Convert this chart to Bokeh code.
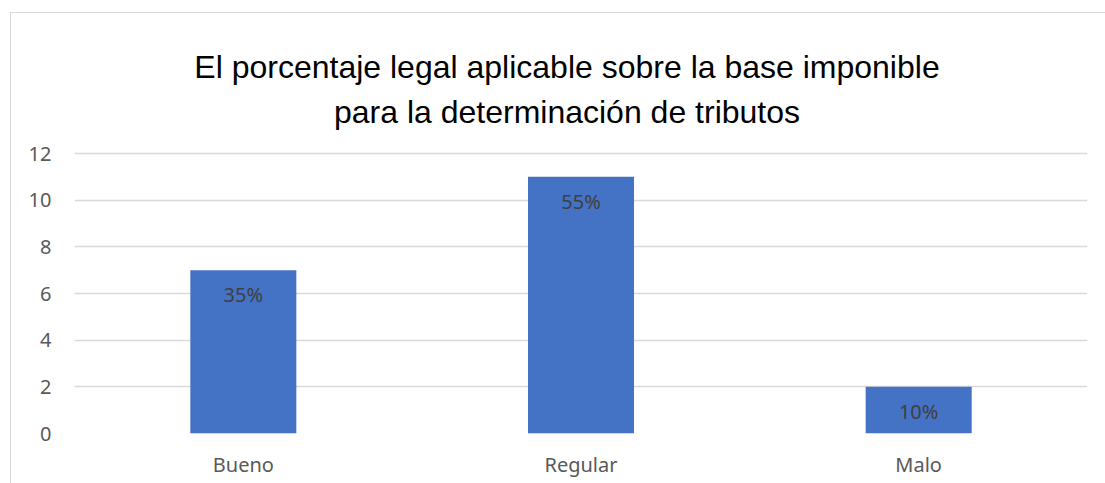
from bokeh.plotting import figure
from bokeh.models import ColumnDataSource, Range1d, FactorRange, FixedTicker
from bokeh.core.properties import value
from bokeh.embed import file_html
from bokeh.resources import INLINE

categories = ["Bueno", "Regular", "Malo"]
counts = [7, 11, 2]
pct_labels = ["35%", "55%", "10%"]
y_ticks = [0, 2, 4, 6, 8, 10, 12]
title_lines = ["El porcentaje legal aplicable sobre la base imponible",
               "para la determinación de tributos"]

src = ColumnDataSource(dict(cat=categories, val=counts, lab=pct_labels))

# the frame extends above the value axis (to 18) so the title can sit inside it
p = figure(
    x_range=FactorRange(*categories, range_padding=0),
    y_range=Range1d(0, 18),
    width=1095, height=471,
    output_backend="svg", toolbar_location=None,
    min_border_left=63, min_border_right=19, min_border_bottom=51, min_border_top=0,
)
p.margin = (12, 0, 0, 10)
p.styles = {"border-top": "1px solid #d9d9d9", "border-left": "1px solid #d9d9d9", "box-sizing": "border-box"}
p.outline_line_color = None
p.background_fill_color = "white"
p.border_fill_color = "white"

p.vbar(x="cat", top="val", width=0.314, source=src, fill_color="#4472C4", line_color=None)
p.text(x="cat", y="val", text="lab", source=src, text_align="center", text_baseline="top",
       y_offset=11, text_font=value("Noto Sans"), text_font_size="20px", text_color="#404040")

title_src = ColumnDataSource(dict(x=[categories[1], categories[1]], y=[15.69, 13.76], t=title_lines))
p.text(x="x", y="y", text="t", source=title_src, text_align="center", text_baseline="alphabetic",
       x_offset=-14, text_font=value("Liberation Sans"), text_font_size="32px", text_color="#000000")

p.yaxis.ticker = FixedTicker(ticks=y_ticks)
p.yaxis.axis_line_color = None
p.yaxis.major_tick_line_color = None
p.yaxis.minor_tick_line_color = None
p.yaxis.major_label_standoff = 17
p.yaxis.major_label_text_font = "Noto Sans"
p.yaxis.major_label_text_font_size = "20px"
p.yaxis.major_label_text_color = "#595959"

p.xaxis.axis_line_color = None
p.xaxis.major_tick_line_color = None
p.xaxis.minor_tick_line_color = None
p.xaxis.major_label_standoff = 11
p.xaxis.major_label_text_font = "Noto Sans"
p.xaxis.major_label_text_font_size = "20px"
p.xaxis.major_label_text_color = "#595959"

p.xgrid.grid_line_color = None
p.ygrid.grid_line_color = "#d9d9d9"
p.ygrid.grid_line_width = 1.3

open("out.html", "w").write(file_html(p, INLINE))
